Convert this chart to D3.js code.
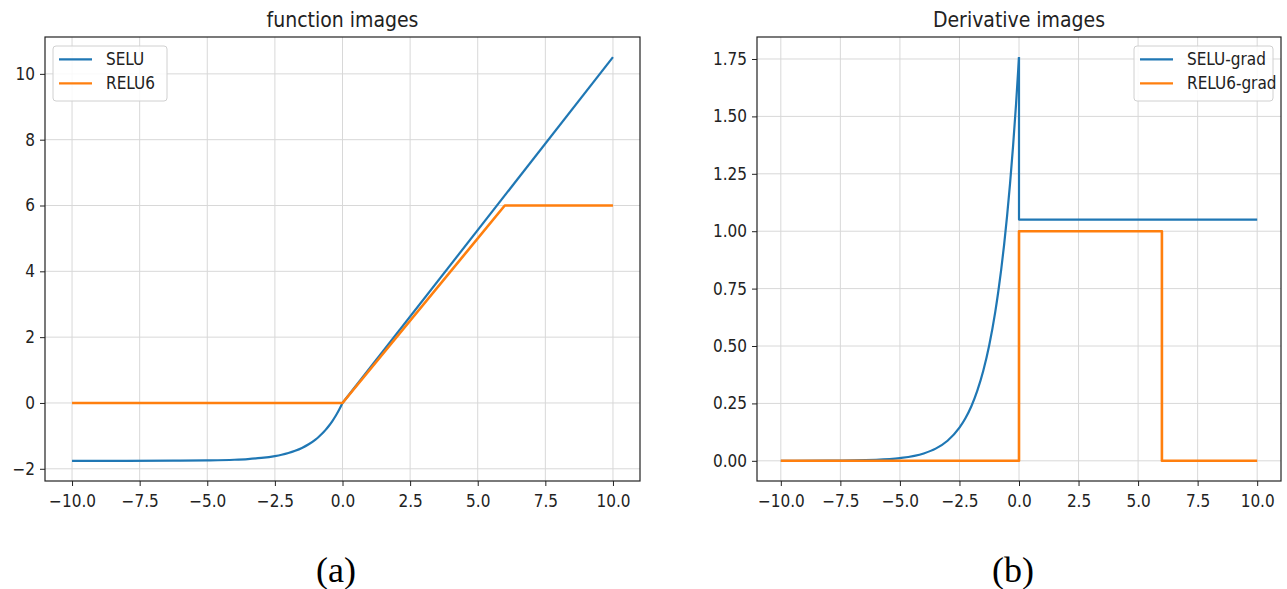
<!DOCTYPE html>
<html>
<head>
<meta charset="utf-8">
<script src="https://cdn.jsdelivr.net/npm/d3@7"></script>
<style>
  body { margin: 0; background: #fff; }
  text { font-family: "DejaVu Sans Condensed", "DejaVu Sans", sans-serif; font-stretch: condensed; fill: #222; }
  .cap { font-family: "Liberation Serif", "Times New Roman", serif; font-stretch: normal; fill: #000; }
</style>
</head>
<body>
<svg width="1287" height="589"></svg>
<script>
const width = 1287;
const height = 589;

// values
const xTicks = [-10, -7.5, -5, -2.5, 0, 2.5, 5, 7.5, 10];
const fnYTicks = [-2, 0, 2, 4, 6, 8, 10];
const gradYTicks = [0, 0.25, 0.5, 0.75, 1.0, 1.25, 1.5, 1.75];

// SELU, negative side (smooth) and positive side (straight)
const negX = [-10, -8, -6, -5, -4, -3.5, -3, -2.5, -2.25, -2, -1.75, -1.5, -1.25, -1, -0.875, -0.75, -0.625, -0.5, -0.375, -0.25, -0.125, 0];
const seluNeg = [-1.758, -1.757, -1.754, -1.746, -1.726, -1.705, -1.670, -1.614, -1.573, -1.520, -1.452, -1.366, -1.254, -1.111, -1.025, -0.928, -0.817, -0.692, -0.550, -0.389, -0.206, 0];
const seluPosX = [0, 10];
const seluPos = [0, 10.507];
// RELU6
const relu6X = [-10, 0, 6, 10];
const relu6Y = [0, 0, 6, 6];

// SELU gradient
const seluGradNeg = [0.0001, 0.0006, 0.0044, 0.0118, 0.0322, 0.0531, 0.0875, 0.1443, 0.1853, 0.2379, 0.3055, 0.3923, 0.5037, 0.6468, 0.7330, 0.8305, 0.9410, 1.0664, 1.2082, 1.3692, 1.5514, 1.758];
const seluGradPosX = [0, 0, 10];
const seluGradPos = [1.758, 1.0507, 1.0507];
// RELU6 gradient
const relu6GradX = [-10, 0, 0, 6, 6, 10];
const relu6GradY = [0, 0, 1, 1, 0, 0];

const blue = "#1f77b4";
const orange = "#ff7f0e";

const svg = d3.select("svg");

function panel(opts) {
  const x = d3.scaleLinear().domain([-11, 11]).range([opts.left, opts.right]);
  const y = d3.scaleLinear().domain(opts.yDomain).range([481, 37]);
  const g = svg.append("g");

  // grid
  g.append("g").selectAll("line").data(xTicks).enter().append("line")
    .attr("x1", d => x(d)).attr("x2", d => x(d))
    .attr("y1", y.range()[1]).attr("y2", y.range()[0])
    .attr("stroke", "#d8d8d8").attr("stroke-width", 1);
  g.append("g").selectAll("line").data(opts.yTicks).enter().append("line")
    .attr("x1", opts.left).attr("x2", opts.right)
    .attr("y1", d => y(d)).attr("y2", d => y(d))
    .attr("stroke", "#d8d8d8").attr("stroke-width", 1);

  // series
  for (const s of opts.series) {
    const pts = s.x.map((v, i) => [v, s.y[i]]);
    g.append("path")
      .datum(pts)
      .attr("fill", "none")
      .attr("stroke", s.color)
      .attr("stroke-width", s.w || 2.2)
      .attr("stroke-linejoin", "round")
      .attr("d", d3.line().x(d => x(d[0])).y(d => y(d[1])).curve(s.curve || d3.curveLinear));
  }

  // axes
  const xa = g.append("g").attr("transform", `translate(0,481)`)
    .call(d3.axisBottom(x).tickValues(xTicks).tickSize(5).tickPadding(6)
      .tickFormat(d => d3.format(".1f")(d).replace("-", "\u2212")));
  const ya = g.append("g").attr("transform", `translate(${opts.left},0)`)
    .call(d3.axisLeft(y).tickValues(opts.yTicks).tickSize(5).tickPadding(5)
      .tickFormat(d => opts.fmt(d).replace("-", "\u2212")));
  for (const a of [xa, ya]) {
    a.select(".domain").remove();
    a.selectAll(".tick line").attr("stroke", "#222");
    a.selectAll(".tick text").attr("font-size", 17).style("fill", "#222");
  }
  xa.selectAll(".tick text").attr("dy", "0.9em");

  // frame
  g.append("rect")
    .attr("x", opts.left).attr("y", 37)
    .attr("width", opts.right - opts.left).attr("height", 444)
    .attr("fill", "none").attr("stroke", "#222").attr("stroke-width", 1.2);

  // title
  g.append("text")
    .attr("x", (opts.left + opts.right) / 2).attr("y", 27)
    .attr("text-anchor", "middle").attr("font-size", 21)
    .text(opts.title);

  // legend
  const lg = g.append("g").attr("transform", `translate(${opts.legX},46)`);
  lg.append("rect").attr("width", opts.legW).attr("height", 55).attr("rx", 3)
    .attr("fill", "#fff").attr("fill-opacity", 0.85)
    .attr("stroke", "#d0d0d0").attr("stroke-width", 1);
  opts.legend.forEach((l, i) => {
    const yy = 13.3 + i * 24;
    lg.append("line").attr("x1", 6).attr("x2", 39).attr("y1", yy).attr("y2", yy)
      .attr("stroke", l.color).attr("stroke-width", 2.2);
    lg.append("text").attr("x", 53).attr("y", yy).attr("dy", "0.36em")
      .attr("font-size", 17).text(l.label);
  });

  // caption
  svg.append("text").attr("class", "cap")
    .attr("x", opts.capX).attr("y", 582)
    .attr("text-anchor", "middle").attr("font-size", 36)
    .text(opts.cap);
}

panel({
  left: 45, right: 640,
  yDomain: [-2.371, 11.12],
  yTicks: fnYTicks,
  fmt: d3.format("d"),
  title: "function images",
  series: [
    { x: negX, y: seluNeg, color: blue, curve: d3.curveMonotoneX },
    { x: seluPosX, y: seluPos, color: blue },
    { x: relu6X, y: relu6Y, color: orange, w: 2.6 }
  ],
  legend: [{ label: "SELU", color: blue }, { label: "RELU6", color: orange }],
  legX: 53, legW: 114,
  cap: "(a)", capX: 336
});

panel({
  left: 757, right: 1281,
  yDomain: [-0.0879, 1.8458],
  yTicks: gradYTicks,
  fmt: d3.format(".2f"),
  title: "Derivative images",
  series: [
    { x: negX, y: seluGradNeg, color: blue, curve: d3.curveMonotoneX },
    { x: seluGradPosX, y: seluGradPos, color: blue },
    { x: relu6GradX, y: relu6GradY, color: orange, w: 2.6 }
  ],
  legend: [{ label: "SELU-grad", color: blue }, { label: "RELU6-grad", color: orange }],
  legX: 1134, legW: 139,
  cap: "(b)", capX: 1013
});
</script>
</body>
</html>
